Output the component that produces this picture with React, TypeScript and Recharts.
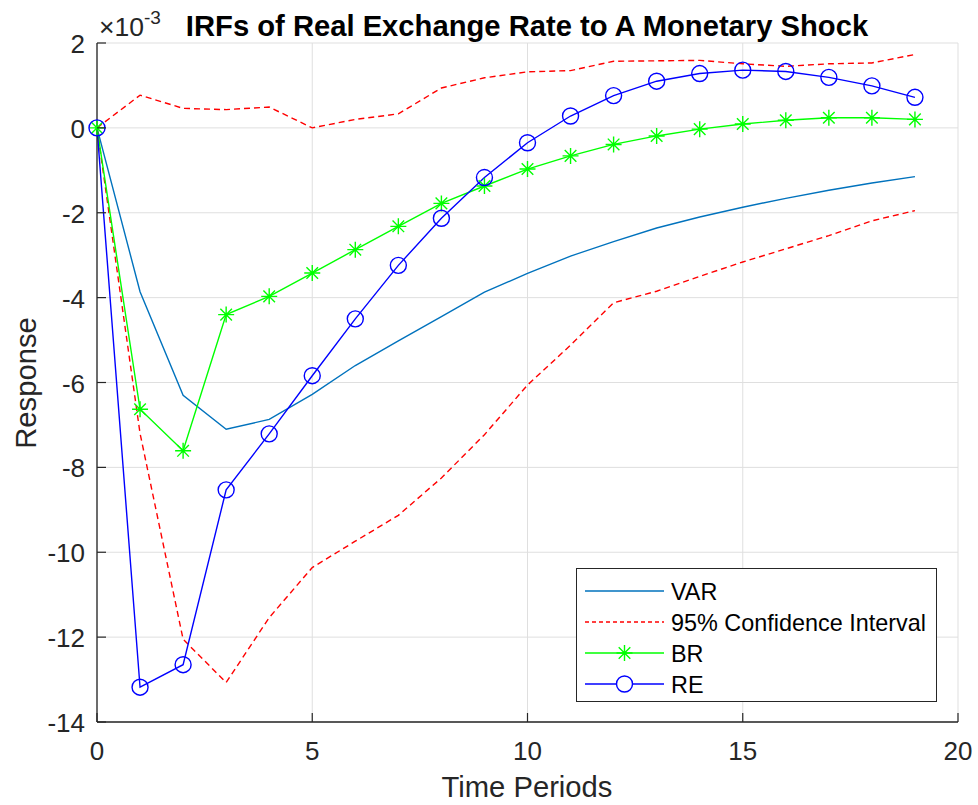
// Impulse responses of the real exchange rate to a monetary shock (values in units of 1e-3).
import { CartesianGrid, Legend, Line, LineChart, XAxis, YAxis } from "recharts";

const periods = [0, 1, 2, 3, 4, 5, 6, 7, 8, 9, 10, 11, 12, 13, 14, 15, 16, 17, 18, 19];
const varResp = [0, -3.86, -6.3, -7.1, -6.87, -6.28, -5.6, -5.02, -4.45, -3.87, -3.43, -3.02, -2.68, -2.36, -2.1, -1.87, -1.66, -1.47, -1.3, -1.15];
const ciUpper = [0, 0.77, 0.46, 0.43, 0.49, 0.0, 0.2, 0.33, 0.94, 1.18, 1.32, 1.35, 1.57, 1.58, 1.59, 1.51, 1.45, 1.51, 1.53, 1.73];
const ciLower = [0, -7.2, -12.05, -13.07, -11.54, -10.36, -9.74, -9.13, -8.25, -7.23, -6.06, -5.12, -4.12, -3.85, -3.5, -3.16, -2.85, -2.54, -2.19, -1.95];
const brResp = [0, -6.63, -7.61, -4.4, -3.97, -3.42, -2.87, -2.32, -1.78, -1.37, -0.97, -0.66, -0.39, -0.19, -0.03, 0.09, 0.18, 0.24, 0.24, 0.2];
const reResp = [0, -13.18, -12.65, -8.53, -7.21, -5.84, -4.5, -3.24, -2.13, -1.17, -0.35, 0.28, 0.76, 1.1, 1.28, 1.36, 1.33, 1.19, 0.99, 0.72];

const xTicks = [0, 5, 10, 15, 20];
const yTicks = [-14, -12, -10, -8, -6, -4, -2, 0, 2];

const data = periods.map((t, i) => ({
  t,
  var: varResp[i],
  ciUp: ciUpper[i],
  ciLo: ciLower[i],
  br: brResp[i],
  re: reResp[i],
}));

const AXIS = "#262626";
const FONT = '"Liberation Sans", Arial, Helvetica, sans-serif';
const TICK_LEN = 9;
const C_VAR = "#0072BD";
const C_CI = "#FF0000";
const C_BR = "#00FF00";
const C_RE = "#0000FF";
const LW = 1.4;
const DASH = "6 4";

const BottomTick = ({ x, y, payload }: any) => (
  <g>
    <line x1={x} y1={y} x2={x} y2={y - TICK_LEN} stroke={AXIS} strokeWidth={1.2} />
    <text x={x} y={y + 38} textAnchor="middle" fill={AXIS} fontSize={26} fontFamily={FONT}>{payload.value}</text>
  </g>
);

const LeftTick = ({ x, y, payload }: any) => (
  <g>
    <line x1={x} y1={y} x2={x + TICK_LEN} y2={y} stroke={AXIS} strokeWidth={1.2} />
    <text x={x - 12} y={y + 10} textAnchor="end" fill={AXIS} fontSize={26} fontFamily={FONT}>{payload.value}</text>
  </g>
);

const TopTick = ({ x, y }: any) => <line x1={x} y1={y} x2={x} y2={y + TICK_LEN} stroke={AXIS} strokeWidth={1.2} />;
const RightTick = ({ x, y }: any) => <line x1={x} y1={y} x2={x - TICK_LEN} y2={y} stroke={AXIS} strokeWidth={1.2} />;

function starPath(cx: number, cy: number) {
  const r = 8;
  const d = 5.8;
  return `M${cx - r},${cy}H${cx + r}M${cx},${cy - r}V${cy + r}M${cx - d},${cy - d}L${cx + d},${cy + d}M${cx - d},${cy + d}L${cx + d},${cy - d}`;
}

const StarDot = (p: any) => {
  if (p.cx == null || p.cy == null) return null;
  return <path key={`br-${p.index}`} d={starPath(p.cx, p.cy)} stroke={C_BR} strokeWidth={LW} fill="none" />;
};

const CircleDot = (p: any) => {
  if (p.cx == null || p.cy == null) return null;
  return <circle key={`re-${p.index}`} cx={p.cx} cy={p.cy} r={8} stroke={C_RE} strokeWidth={LW} fill="none" />;
};

const legendRows = [
  { label: "VAR", color: C_VAR, dash: undefined, marker: "" },
  { label: "95% Confidence Interval", color: C_CI, dash: "4 3", marker: "" },
  { label: "BR", color: C_BR, dash: undefined, marker: "star" },
  { label: "RE", color: C_RE, dash: undefined, marker: "circle" },
];

const LegendBox = () => (
  <svg width={361} height={134} style={{ display: "block", background: "#fff", border: `1px solid ${AXIS}`, boxSizing: "border-box" }}>
    {legendRows.map((r, i) => {
      const cy = 22 + i * 31;
      return (
        <g key={r.label}>
          <line x1={8} y1={cy} x2={87} y2={cy} stroke={r.color} strokeWidth={LW} strokeDasharray={r.dash} />
          {r.marker === "star" && <path d={starPath(47.5, cy)} stroke={r.color} strokeWidth={LW} fill="none" />}
          {r.marker === "circle" && <circle cx={47.5} cy={cy} r={8} stroke={r.color} strokeWidth={LW} fill="#fff" />}
          <text x={94} y={cy + 8.5} fontSize={23.4} fill="#000" fontFamily={FONT}>{r.label}</text>
        </g>
      );
    })}
  </svg>
);

export default function App() {
  return (
    <div style={{ position: "absolute", left: 0, top: 0, width: 978, height: 805, background: "#fff", fontFamily: FONT }}>
      <LineChart width={978} height={805} data={data} margin={{ top: 43, right: 20, bottom: 0, left: 0 }}>
        <CartesianGrid stroke="#dfdfdf" strokeWidth={1} />
        <XAxis dataKey="t" type="number" domain={[0, 20]} ticks={xTicks} interval={0} height={83}
          stroke={AXIS} strokeWidth={1.3} tickLine={false} tickSize={0} tickMargin={0} tick={BottomTick} />
        <XAxis xAxisId="top" orientation="top" type="number" domain={[0, 20]} ticks={xTicks} interval={0} height={0}
          stroke={AXIS} strokeWidth={1.3} tickLine={false} tickSize={0} tickMargin={0} tick={TopTick} />
        <YAxis type="number" domain={[-14, 2]} ticks={yTicks} interval={0} width={97}
          stroke={AXIS} strokeWidth={1.3} tickLine={false} tickSize={0} tickMargin={0} tick={LeftTick} />
        <YAxis yAxisId="right" orientation="right" type="number" domain={[-14, 2]} ticks={yTicks} interval={0} width={0}
          stroke={AXIS} strokeWidth={1.3} tickLine={false} tickSize={0} tickMargin={0} tick={RightTick} />
        <Line type="linear" dataKey="var" name="VAR" stroke={C_VAR} strokeWidth={LW} dot={false} activeDot={false} isAnimationActive={false} />
        <Line type="linear" dataKey="ciUp" name="95% Confidence Interval" stroke={C_CI} strokeWidth={LW} strokeDasharray={DASH} dot={false} activeDot={false} isAnimationActive={false} />
        <Line type="linear" dataKey="ciLo" legendType="none" stroke={C_CI} strokeWidth={LW} strokeDasharray={DASH} dot={false} activeDot={false} isAnimationActive={false} />
        <Line type="linear" dataKey="br" name="BR" stroke={C_BR} strokeWidth={LW} dot={StarDot} activeDot={false} isAnimationActive={false} />
        <Line type="linear" dataKey="re" name="RE" stroke={C_RE} strokeWidth={LW} dot={CircleDot} activeDot={false} isAnimationActive={false} />
        <Legend layout="vertical" align="center" verticalAlign="middle" content={LegendBox}
          wrapperStyle={{ position: "absolute", left: 576, top: 568, width: 361, height: 134 }} />
      </LineChart>
      <svg width={978} height={805} style={{ position: "absolute", left: 0, top: 0, pointerEvents: "none" }}>
        <text x={527} y={36} textAnchor="middle" fontSize={29.2} fontWeight="bold" fill="#000" fontFamily={FONT}>
          IRFs of Real Exchange Rate to A Monetary Shock
        </text>
        <text x={99} y={36} fontSize={26.5} fill={AXIS} fontFamily={FONT}>
          ×10<tspan dy={-12} fontSize={19}>-3</tspan>
        </text>
        <text x={527} y={797} textAnchor="middle" fontSize={29.2} fill={AXIS} fontFamily={FONT}>Time Periods</text>
        <text transform="translate(36,383) rotate(-90)" textAnchor="middle" fontSize={29.2} fill={AXIS} fontFamily={FONT}>Response</text>
      </svg>
    </div>
  );
}
